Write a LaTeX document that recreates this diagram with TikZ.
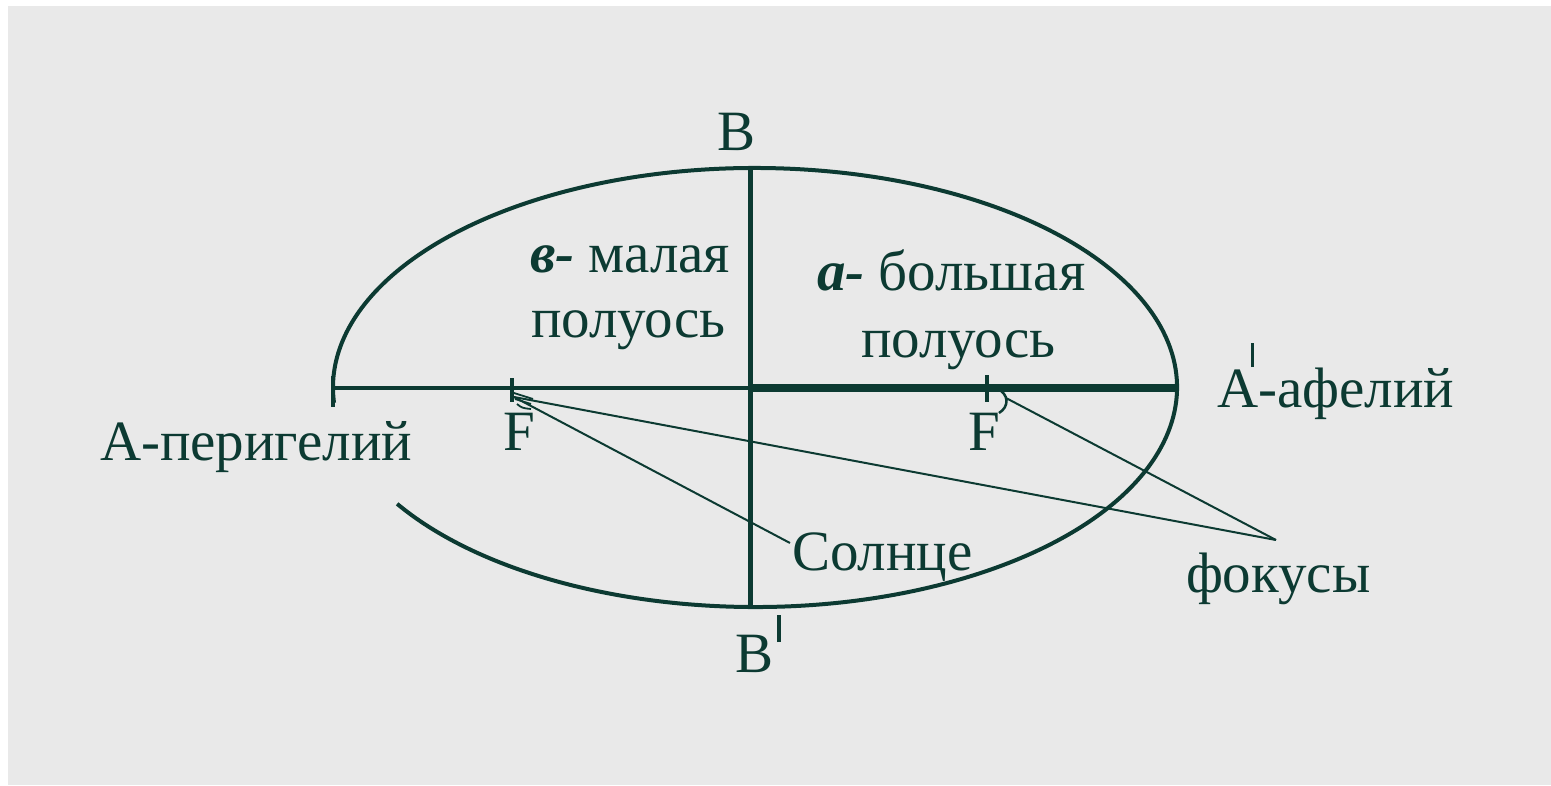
\documentclass[tikz,border=0pt]{standalone}
\usepackage{fontspec}
\setmainfont{Liberation Serif}
\usetikzlibrary{calc}
\definecolor{ink}{RGB}{12,58,50}
\definecolor{bg}{RGB}{233,233,233}
\tikzset{
  lbl/.style={inner sep=0pt, outer sep=0pt, text=ink, font=\fontsize{57}{65}\selectfont},
  axis/.style={draw=ink, line width=#1},
  thin/.style={draw=ink, line width=2pt},
}
\begin{document}
\begin{tikzpicture}[x=1pt,y=1pt]
\useasboundingbox (0,0) rectangle (1551,-785);
\fill[white] (0,0) rectangle (1551,-785);
\fill[bg] (8,-6) rectangle (1551,-785);
% ellipse (with gap at lower left)
\coordinate (O) at (755,-387.5);
\draw[ink, line width=4pt] ($(O)+(212:422 and 219.5)$) arc[start angle=212, end angle=544, x radius=422, y radius=219.5];
% axes
\coordinate (Aleft) at (333,-388);
\coordinate (C) at (750,-388);
\coordinate (Aright) at (1177,-388);
\coordinate (Btop) at (750,-167);
\coordinate (Bbot) at (750,-607);
\draw[axis=4pt] (Aleft) -- (C);
\draw[axis=8pt] (C) -- (Aright);
\draw[axis=5pt] (Btop) -- (Bbot);
% ticks
\draw[axis=4pt] (333,-376) -- (333,-407);
\coordinate (F1) at (512,-390);
\coordinate (F2) at (987,-390);
\draw[axis=4pt] (512,-378) -- (512,-402);
\draw[axis=4pt] (987,-375) -- (987,-402);
% connectors
\coordinate (f1s) at (514,-397);
\coordinate (f2s) at (1006,-398);
\coordinate (sun) at (790,-543);
\coordinate (foc) at (1276,-540);
\draw[thin] (f1s) -- (sun);
\draw[thin] (f1s) -- (foc);
\draw[thin] (f2s) -- (foc);
% little marks at the foci
\draw[ink, line width=2.5pt] (996,-388) .. controls (1010,-394) and (1009,-407) .. (999,-413);
\draw[ink, line width=1.8pt] (514,-393) -- (533,-399);
\draw[ink, line width=1.8pt] (515,-399) -- (531,-404);
\draw[ink, line width=1.8pt] (517,-404) .. controls (522,-408) .. (531,-409);
% labels
\node[lbl, anchor=base] (B) at (737,-150) {B};
\node[lbl, anchor=base west] (Bp) at (735,-672) {B\hspace{4pt}\rule[30pt]{3.5pt}{27pt}};
\node[lbl, anchor=base west] (b1) at (530,-272) {{\bfseries\itshape в-} малая};
\node[lbl, anchor=base west] (b2) at (531,-337) {полуось};
\node[lbl, anchor=base west] (a1) at (817,-290) {{\bfseries\itshape а-} большая};
\node[lbl, anchor=base west] (a2) at (861,-357) {полуось};
\node[lbl, anchor=base west] (Ap) at (1217,-407) {А\llap{\rule[40pt]{3.5pt}{24pt}\hspace{4pt}}-афелий};
\node[lbl, anchor=base west] (Ap0) at (100,-460) {А-перигелий};
\node[lbl, anchor=base west] (Fl) at (503,-450) {F};
\node[lbl, anchor=base west] (Fr) at (968,-450) {F};
\node[lbl, anchor=base west] (Sun) at (792,-570) {Солнце};
\node[lbl, anchor=base west] (Foc) at (1186,-592) {фокусы};
\end{tikzpicture}
\end{document}
